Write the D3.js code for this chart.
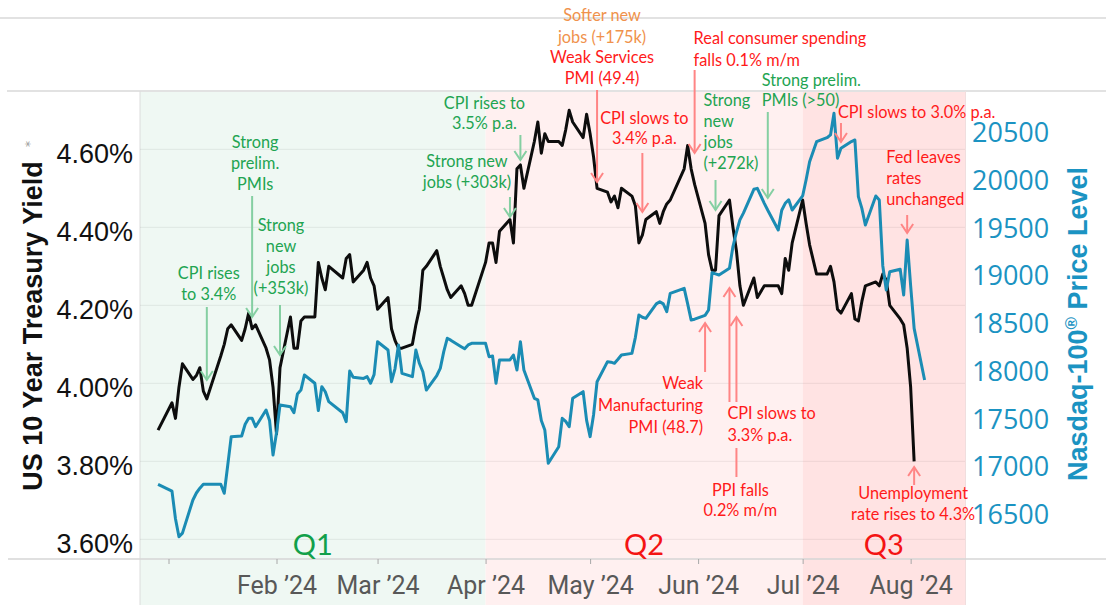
<!DOCTYPE html>
<html><head><meta charset="utf-8">
<script src="https://cdn.jsdelivr.net/npm/d3@7"></script>
<style>body{margin:0;background:#fff}svg{display:block}</style>
</head><body>
<svg id="chart" width="1106" height="605"></svg>
<script>
// ---------- DATA ----------
const yieldDates = ["2023-12-29","2024-01-02","2024-01-03","2024-01-04","2024-01-05","2024-01-08","2024-01-09","2024-01-10","2024-01-11","2024-01-12","2024-01-16","2024-01-17","2024-01-18","2024-01-19","2024-01-22","2024-01-23","2024-01-24","2024-01-25","2024-01-26","2024-01-29","2024-01-30","2024-01-31","2024-02-01","2024-02-02","2024-02-05","2024-02-06","2024-02-07","2024-02-08","2024-02-09","2024-02-12","2024-02-13","2024-02-14","2024-02-15","2024-02-16","2024-02-20","2024-02-21","2024-02-22","2024-02-23","2024-02-26","2024-02-27","2024-02-28","2024-02-29","2024-03-01","2024-03-04","2024-03-05","2024-03-06","2024-03-07","2024-03-08","2024-03-11","2024-03-12","2024-03-13","2024-03-14","2024-03-15","2024-03-18","2024-03-19","2024-03-20","2024-03-21","2024-03-22","2024-03-25","2024-03-26","2024-03-27","2024-03-28","2024-04-01","2024-04-02","2024-04-03","2024-04-04","2024-04-05","2024-04-08","2024-04-09","2024-04-10","2024-04-11","2024-04-12","2024-04-15","2024-04-16","2024-04-17","2024-04-18","2024-04-19","2024-04-22","2024-04-23","2024-04-24","2024-04-25","2024-04-26","2024-04-29","2024-04-30","2024-05-01","2024-05-02","2024-05-03","2024-05-06","2024-05-07","2024-05-08","2024-05-09","2024-05-10","2024-05-13","2024-05-14","2024-05-15","2024-05-16","2024-05-17","2024-05-20","2024-05-21","2024-05-22","2024-05-23","2024-05-24","2024-05-28","2024-05-29","2024-05-30","2024-05-31","2024-06-03","2024-06-04","2024-06-05","2024-06-06","2024-06-07","2024-06-10","2024-06-11","2024-06-12","2024-06-13","2024-06-14","2024-06-17","2024-06-18","2024-06-20","2024-06-21","2024-06-24","2024-06-25","2024-06-26","2024-06-27","2024-06-28","2024-07-01","2024-07-02","2024-07-03","2024-07-05","2024-07-08","2024-07-09","2024-07-10","2024-07-11","2024-07-12","2024-07-15","2024-07-16","2024-07-17","2024-07-18","2024-07-19","2024-07-22","2024-07-23","2024-07-24","2024-07-25","2024-07-26","2024-07-29","2024-07-30","2024-07-31","2024-08-01","2024-08-02"];
const yieldValues = [3.88,3.95,3.91,3.99,4.05,4.01,4.02,4.04,3.98,3.96,4.07,4.10,4.14,4.15,4.11,4.14,4.18,4.14,4.15,4.09,4.06,3.99,3.87,4.04,4.17,4.09,4.09,4.16,4.17,4.17,4.31,4.27,4.24,4.30,4.27,4.32,4.33,4.26,4.29,4.31,4.27,4.25,4.19,4.22,4.14,4.11,4.09,4.09,4.10,4.15,4.19,4.29,4.30,4.34,4.30,4.27,4.24,4.22,4.25,4.23,4.20,4.20,4.31,4.36,4.36,4.31,4.39,4.42,4.36,4.55,4.56,4.50,4.62,4.67,4.59,4.64,4.62,4.62,4.61,4.65,4.70,4.67,4.63,4.69,4.64,4.58,4.50,4.49,4.465,4.48,4.45,4.50,4.48,4.455,4.36,4.38,4.42,4.44,4.41,4.44,4.46,4.47,4.55,4.61,4.55,4.51,4.41,4.33,4.29,4.29,4.43,4.47,4.40,4.34,4.25,4.20,4.27,4.22,4.25,4.25,4.25,4.23,4.32,4.29,4.36,4.47,4.41,4.355,4.28,4.28,4.30,4.26,4.19,4.18,4.23,4.165,4.16,4.21,4.25,4.26,4.25,4.28,4.265,4.20,4.165,4.15,4.09,3.99,3.80];

const ndxDates = ["2023-12-29","2024-01-02","2024-01-03","2024-01-04","2024-01-05","2024-01-08","2024-01-09","2024-01-10","2024-01-11","2024-01-12","2024-01-16","2024-01-17","2024-01-18","2024-01-19","2024-01-22","2024-01-23","2024-01-24","2024-01-25","2024-01-26","2024-01-29","2024-01-30","2024-01-31","2024-02-01","2024-02-02","2024-02-05","2024-02-06","2024-02-07","2024-02-08","2024-02-09","2024-02-12","2024-02-13","2024-02-14","2024-02-15","2024-02-16","2024-02-20","2024-02-21","2024-02-22","2024-02-23","2024-02-26","2024-02-27","2024-02-28","2024-02-29","2024-03-01","2024-03-04","2024-03-05","2024-03-06","2024-03-07","2024-03-08","2024-03-11","2024-03-12","2024-03-13","2024-03-14","2024-03-15","2024-03-18","2024-03-19","2024-03-20","2024-03-21","2024-03-22","2024-03-25","2024-03-26","2024-03-27","2024-03-28","2024-04-01","2024-04-02","2024-04-03","2024-04-04","2024-04-05","2024-04-08","2024-04-09","2024-04-10","2024-04-11","2024-04-12","2024-04-15","2024-04-16","2024-04-17","2024-04-18","2024-04-19","2024-04-22","2024-04-23","2024-04-24","2024-04-25","2024-04-26","2024-04-29","2024-04-30","2024-05-01","2024-05-02","2024-05-03","2024-05-06","2024-05-07","2024-05-08","2024-05-09","2024-05-10","2024-05-13","2024-05-14","2024-05-15","2024-05-16","2024-05-17","2024-05-20","2024-05-21","2024-05-22","2024-05-23","2024-05-24","2024-05-28","2024-05-29","2024-05-30","2024-05-31","2024-06-03","2024-06-04","2024-06-05","2024-06-06","2024-06-07","2024-06-10","2024-06-11","2024-06-12","2024-06-13","2024-06-14","2024-06-17","2024-06-18","2024-06-20","2024-06-21","2024-06-24","2024-06-25","2024-06-26","2024-06-27","2024-06-28","2024-07-01","2024-07-02","2024-07-03","2024-07-05","2024-07-08","2024-07-09","2024-07-10","2024-07-11","2024-07-12","2024-07-15","2024-07-16","2024-07-17","2024-07-18","2024-07-19","2024-07-22","2024-07-23","2024-07-24","2024-07-25","2024-07-26","2024-07-29","2024-07-30","2024-07-31","2024-08-01","2024-08-02","2024-08-05"];
const ndxValues = [16811,16740,16450,16262,16300,16647,16720,16770,16811,16811,16811,16717,17010,17310,17317,17440,17502,17502,17414,17589,17480,17118,17350,17641,17624,17561,17757,17798,17955,17869,17583,17833,17780,17676,17560,17467,17997,17931,17920,17938,17869,17960,18304,18217,17885,18020,18270,17973,17938,18217,18078,17990,17798,17950,18025,18200,18340,18320,18252,18230,18270,18287,18287,18147,18155,17869,18113,18113,18165,18008,18304,18008,17711,17694,17480,17380,17031,17205,17502,17470,17414,17711,17781,17480,17310,17540,17885,18095,18090,18078,18120,18165,18182,18350,18583,18560,18548,18700,18723,18700,18618,18811,18863,18700,18531,18540,18580,18636,19027,19015,19003,19073,19300,19450,19580,19650,19900,19910,19753,19680,19474,19680,19753,19790,19683,19830,20000,20189,20398,20440,20469,20696,20225,20329,20400,20416,19823,19700,19526,19830,19788,19100,18846,19037,19063,18793,19369,18890,18444,17903];

const leftTicks = [3.6, 3.8, 4.0, 4.2, 4.4, 4.6];
const rightTicks = [16500, 17000, 17500, 18000, 18500, 19000, 19500, 20000, 20500];
const monthTickDates = ["2024-01-01","2024-02-01","2024-03-01","2024-04-01","2024-05-01","2024-06-01","2024-07-01","2024-08-01"];
const monthTickLabels = ["", "Feb \u201924", "Mar \u201924", "Apr \u201924", "May \u201924", "Jun \u201924", "Jul \u201924", "Aug \u201924"];
const quarterNames = ["Q1", "Q2", "Q3"];
const quarterStarts = [null, "2024-04-01", "2024-07-01"];

// annotations: arrow anchored at a date
const annotations = [
  {date:"2024-01-12", lines:["CPI rises","to 3.4%"], kind:"g", dx:2, anchor:"middle", ty:[273,294], arrow:[307,380,"down"]},
  {date:"2024-01-25", lines:["Strong","prelim.","PMIs"], kind:"g", dx:3, anchor:"middle", ty:[142,163,184], arrow:[196,317,"down"]},
  {date:"2024-02-02", lines:["Strong","new","jobs","(+353k)"], kind:"g", dx:1, anchor:"middle", ty:[225,246,267,288], arrow:[305,355,"down"]},
  {date:"2024-04-11", lines:["CPI rises to","3.5% p.a."], kind:"g", dx:-36, anchor:"middle", ty:[103,123], arrow:[135,160,"down"]},
  {date:"2024-04-08", lines:["Strong new","jobs (+303k)"], kind:"g", dx:-43, anchor:"middle", ty:[161,182], arrow:[197,217,"down"]},
  {date:"2024-05-03", lines:["Softer new","jobs (+175k)","Weak Services","PMI (49.4)"], kind:["o","o","r","r"], dx:5, anchor:"middle", ty:[15,37,57,78], arrow:[90,182,"down"]},
  {date:"2024-05-16", lines:["CPI slows to","3.4% p.a."], kind:"r", dx:2, anchor:"middle", ty:[118,138], arrow:[153,212,"down"]},
  {date:"2024-05-31", lines:["Real consumer spending","falls 0.1% m/m"], kind:"r", dx:-1, anchor:"start", ty:[38,60], arrow:[70,153,"down"]},
  {date:"2024-06-06", lines:["Strong","new","jobs","(+272k)"], kind:"g", dx:-12, anchor:"start", ty:[100,121,142,163], arrow:[180,210,"down"]},
  {date:"2024-06-21", lines:["Strong prelim.","PMIs (>50)"], kind:"g", dx:-6, anchor:"start", ty:[80,100], arrow:[112,198,"down"]},
  {date:"2024-07-12", lines:["CPI slows to 3.0% p.a."], kind:"r", dx:-3, anchor:"start", ty:[112], arrow:[123,142,"down"]},
  {date:"2024-07-31", lines:["Fed leaves","rates","unchanged"], kind:"r", dx:-21, anchor:"start", ty:[157,178,199], arrow:[215,233,"down"]},
  {date:"2024-06-03", lines:["Weak","Manufacturing","PMI (48.7)"], kind:"r", dx:-2, anchor:"end", ty:[383,405,427], arrow:[372,323,"up"]},
  {date:"2024-06-10", lines:["CPI slows to","3.3% p.a."], kind:"r", dx:-2, anchor:"start", ty:[413,435], arrow:[402,288,"up"]},
  {date:"2024-06-12", lines:["PPI falls","0.2% m/m"], kind:"r", dx:4, anchor:"middle", ty:[490,510], arrow:[402,317,"up"], arrow2:[477,448]},
  {date:"2024-08-02", lines:["Unemployment","rate rises to 4.3%"], kind:"r", dx:-1, anchor:"middle", ty:[493,514], arrow:[485,467,"up"]}
];

// ---------- SETUP ----------
const parse = d3.utcParse("%Y-%m-%d");
const DAY = 864e5;
const jan1 = Date.UTC(2024,0,1);
const svg = d3.select("#chart");
const L = 140, R = 965, T = 91, B = 559;

const x = d3.scaleUtc().domain([new Date(jan1 - 8.18*DAY), new Date(jan1 + 228.6*DAY)]).range([L, R]);
const yL = d3.scaleLinear().domain([3.5495, 4.7495]).range([B, T]);
const yR = d3.scaleLinear().domain([16029, 20929]).range([B, T]);

const colors = {g:"#22a451", r:"#ff1a1a", o:"#f0924c"};
const arrowColors = {g:"#85cfa2", r:"#ff8585"};
const teal = "#1b8cb4";
const annFont = "Lato, 'Open Sans', sans-serif";

// top frame line
svg.append("line").attr("x1",0).attr("x2",1106).attr("y1",18).attr("y2",18).attr("stroke","#e2e2e2").attr("stroke-width",2);

// quarter bands
const qBounds = [x.domain()[0], parse(quarterStarts[1]), parse(quarterStarts[2]), x.domain()[1]];
const qFill = ["#eff8f3", "#fff0f0", "#ffe3e3"];
const qText = ["#12a04a", "#f41414", "#f41414"];
quarterNames.forEach((q,i) => {
  const x0 = x(qBounds[i]), x1 = x(qBounds[i+1]);
  svg.append("rect").attr("x",x0).attr("y",T).attr("width",x1-x0).attr("height",605-T).attr("fill",qFill[i]);
});

// frame lines
svg.append("line").attr("x1",7).attr("x2",1106).attr("y1",T).attr("y2",T).attr("stroke","#e2e2e2").attr("stroke-width",2);
svg.append("line").attr("x1",L).attr("x2",L).attr("y1",T).attr("y2",605).attr("stroke","#dcdcdc").attr("stroke-width",1);
svg.append("line").attr("x1",R+0.5).attr("x2",R+0.5).attr("y1",T).attr("y2",605).attr("stroke","#f0dede").attr("stroke-width",1);

// gridlines
svg.append("g").selectAll("line").data(leftTicks).join("line")
  .attr("x1",L).attr("x2",R).attr("y1",d=>yL(d)).attr("y2",d=>yL(d))
  .attr("stroke","rgba(0,0,0,0.07)").attr("stroke-width",1);

// bottom axis line
svg.append("line").attr("x1",8).attr("x2",1106).attr("y1",B).attr("y2",B).attr("stroke","#d6d6d6").attr("stroke-width",1.5);

// quarter labels
quarterNames.forEach((q,i) => {
  const x0 = x(qBounds[i]), x1 = x(qBounds[i+1]);
  svg.append("text").attr("x",(x0+x1)/2).attr("y",555).attr("text-anchor","middle")
    .attr("font-family",annFont).attr("font-size",29).attr("fill",qText[i]).text(q);
});

// x axis
const xAxis = d3.axisBottom(x).tickValues(monthTickDates.map(parse)).tickSize(5)
  .tickFormat((d,i) => monthTickLabels[i]);
const gx = svg.append("g").attr("transform",`translate(0,${B})`).call(xAxis);
gx.select(".domain").remove();
gx.selectAll(".tick line").attr("stroke","#a8a8a8");
gx.selectAll(".tick text").attr("font-family","Roboto, sans-serif").attr("font-size",25)
  .attr("fill","#585858").attr("dy",null).attr("y",35);

// left axis
const gl = svg.append("g").attr("transform",`translate(${L},0)`)
  .call(d3.axisLeft(yL).tickValues(leftTicks).tickSize(0).tickPadding(7).tickFormat(d => d3.format(".2f")(d) + "%"));
gl.select(".domain").remove();
gl.selectAll(".tick text").attr("font-family","'Liberation Sans', Arial, sans-serif").attr("font-size",27)
  .attr("fill","#111").attr("dy","0.47em");

// right axis
const gr = svg.append("g").attr("transform",`translate(${R},0)`)
  .call(d3.axisRight(yR).tickValues(rightTicks).tickSize(0).tickPadding(7).tickFormat(d3.format("d")));
gr.select(".domain").remove();
gr.selectAll(".tick text").attr("font-family","'Open Sans', sans-serif").attr("font-size",27)
  .attr("fill","#1b93c2").attr("dy","0.36em");

// axis titles
svg.append("text").attr("transform","translate(32,326) rotate(-90)").attr("text-anchor","middle").attr("dy","0.36em")
  .attr("font-family","'Liberation Sans', Arial, sans-serif").attr("font-weight","bold").attr("font-size",27)
  .attr("fill","#111").text("US 10 Year Treasury Yield");
svg.append("text").attr("transform","translate(30,144) rotate(-90)").attr("text-anchor","middle").attr("dy","0.36em")
  .attr("font-family","DejaVu Sans, sans-serif").attr("font-size",12).attr("fill","#999").text("*");
const rt = svg.append("text").attr("transform","translate(1077,324) rotate(-90)").attr("text-anchor","middle").attr("dy","0.36em")
  .attr("font-family","'Liberation Sans', Arial, sans-serif").attr("font-weight","bold").attr("font-size",27)
  .attr("fill","#1b93c2");
rt.append("tspan").text("Nasdaq-100");
rt.append("tspan").attr("font-size",17).attr("dy","-0.55em").text("\u00AE");
rt.append("tspan").attr("dy","0.35em").text(" Price Level");

// lines
const yieldData = yieldDates.map((d,i) => ({date: parse(d), v: yieldValues[i]}));
const ndxData = ndxDates.map((d,i) => ({date: parse(d), v: ndxValues[i]}));
svg.append("path").datum(yieldData).attr("fill","none").attr("stroke","#0d0d0d").attr("stroke-width",3)
  .attr("stroke-linejoin","round").attr("d", d3.line().x(d=>x(d.date)).y(d=>yL(d.v)));
svg.append("path").datum(ndxData).attr("fill","none").attr("stroke",teal).attr("stroke-width",3)
  .attr("stroke-linejoin","round").attr("d", d3.line().x(d=>x(d.date)).y(d=>yR(d.v)));

// annotations
const ag = svg.append("g");
function drawArrow(ax, y1, y2, col, head) {
  ag.append("line").attr("x1",ax).attr("x2",ax).attr("y1",y1).attr("y2",y2).attr("stroke",col).attr("stroke-width",2);
  if (head) {
    const s = y2 > y1 ? -1 : 1;
    ag.append("path").attr("d",`M${ax-6},${y2+s*9}L${ax},${y2}L${ax+6},${y2+s*9}`)
      .attr("fill","none").attr("stroke",col).attr("stroke-width",2);
  }
}
annotations.forEach(a => {
  const ax = x(parse(a.date));
  const kinds = Array.isArray(a.kind) ? a.kind : a.lines.map(() => a.kind);
  const arrowKind = kinds[kinds.length-1] === "g" ? "g" : "r";
  drawArrow(ax, a.arrow[0], a.arrow[1], arrowColors[arrowKind], true);
  if (a.arrow2) drawArrow(ax, a.arrow2[0], a.arrow2[1], arrowColors[arrowKind], false);
  a.lines.forEach((ln, i) => {
    ag.append("text").attr("x", ax + a.dx).attr("y", a.ty[i]).attr("dy","0.35em")
      .attr("text-anchor", a.anchor).attr("font-family",annFont).attr("font-size",16.3)
      .attr("fill", colors[kinds[i]]).text(ln);
  });
});
</script>
</body></html>
